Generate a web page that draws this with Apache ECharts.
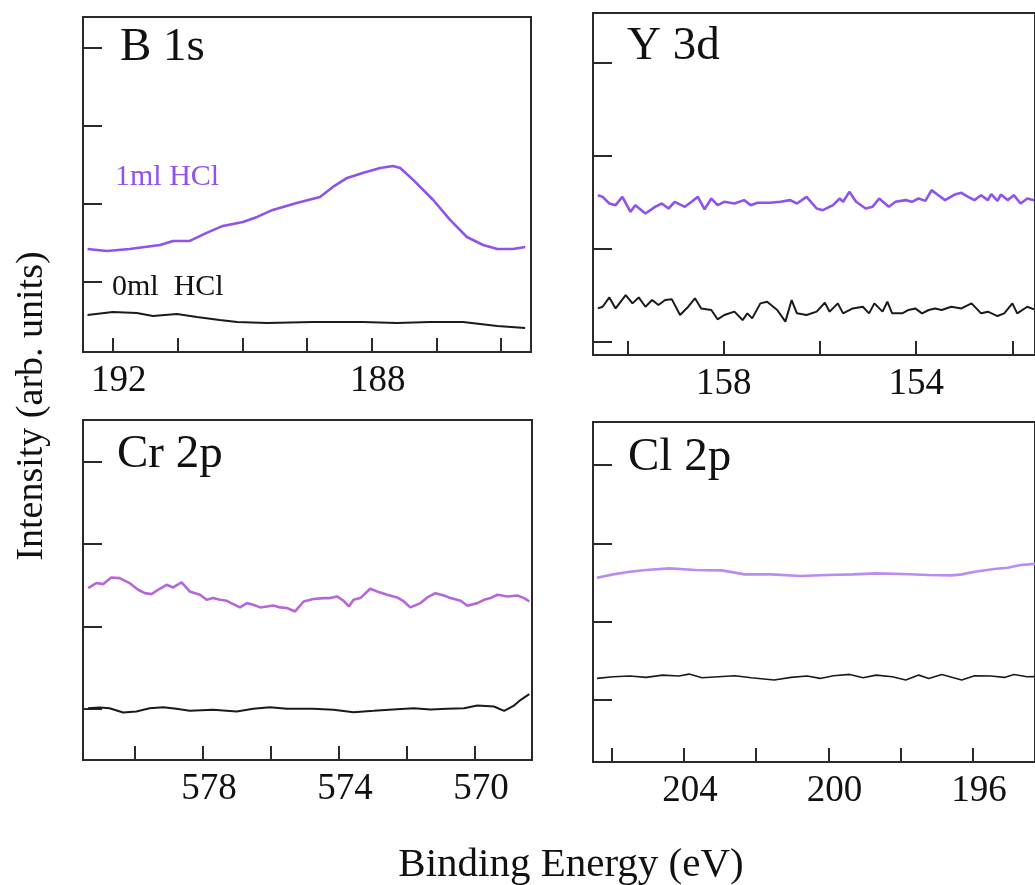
<!DOCTYPE html>
<html>
<head>
<meta charset="utf-8">
<script src="https://cdn.jsdelivr.net/npm/echarts@6/dist/echarts.min.js"></script>
<style>
html,body{margin:0;padding:0;background:#fff;}
#chart{width:1035px;height:885px;}
</style>
</head>
<body>
<div id="chart"></div>
<script>
// ---- DATA: [binding energy (eV), intensity (arb. units)] ----
const b1s_1ml = [[192.39,1.416],[192.09,1.390],[191.74,1.416],[191.27,1.467],[191.07,1.519],[190.81,1.519],[190.55,1.622],[190.30,1.712],[189.99,1.763],[189.77,1.828],[189.53,1.918],[189.16,2.008],[188.80,2.085],[188.60,2.214],[188.38,2.329],[188.14,2.394],[187.87,2.458],[187.67,2.484],[187.56,2.458],[187.36,2.304],[187.05,2.046],[186.79,1.789],[186.53,1.570],[186.28,1.467],[186.06,1.416],[185.82,1.416],[185.63,1.441]];
const b1s_0ml = [[192.39,0.566],[192.00,0.605],[191.63,0.592],[191.38,0.553],[191.01,0.579],[190.70,0.541],[190.35,0.502],[190.08,0.476],[189.62,0.463],[188.91,0.476],[188.14,0.476],[187.61,0.463],[187.10,0.476],[186.59,0.476],[186.06,0.425],[185.63,0.399]];

const y3d_1ml = [[160.62,1.575],[160.52,1.557],[160.38,1.486],[160.25,1.468],[160.11,1.557],[159.94,1.397],[159.84,1.468],[159.63,1.379],[159.43,1.450],[159.29,1.486],[159.15,1.432],[159.02,1.504],[158.81,1.450],[158.67,1.504],[158.54,1.557],[158.40,1.422],[158.26,1.539],[158.13,1.468],[157.99,1.504],[157.78,1.486],[157.58,1.522],[157.44,1.468],[157.30,1.493],[157.03,1.493],[156.82,1.504],[156.62,1.522],[156.48,1.486],[156.28,1.557],[156.07,1.432],[155.94,1.414],[155.73,1.468],[155.59,1.539],[155.52,1.504],[155.39,1.611],[155.25,1.504],[155.05,1.432],[154.91,1.450],[154.77,1.539],[154.57,1.450],[154.43,1.504],[154.22,1.522],[154.09,1.504],[153.95,1.539],[153.81,1.514],[153.68,1.629],[153.54,1.575],[153.40,1.522],[153.20,1.582],[153.06,1.600],[152.92,1.557],[152.79,1.522],[152.65,1.575],[152.51,1.522],[152.44,1.586],[152.31,1.514],[152.24,1.582],[152.10,1.522],[151.97,1.575],[151.83,1.486],[151.69,1.539],[151.55,1.520]];
const y3d_0ml = [[160.62,0.360],[160.52,0.378],[160.38,0.478],[160.25,0.360],[160.04,0.503],[159.90,0.414],[159.77,0.478],[159.63,0.378],[159.49,0.450],[159.36,0.396],[159.22,0.450],[159.08,0.457],[158.91,0.289],[158.74,0.378],[158.60,0.468],[158.47,0.360],[158.26,0.343],[158.13,0.243],[157.99,0.289],[157.78,0.325],[157.61,0.235],[157.51,0.307],[157.41,0.253],[157.24,0.414],[157.10,0.432],[156.89,0.343],[156.72,0.218],[156.59,0.450],[156.48,0.307],[156.28,0.289],[156.07,0.325],[155.90,0.421],[155.80,0.325],[155.63,0.414],[155.52,0.307],[155.32,0.360],[155.11,0.378],[154.98,0.307],[154.87,0.414],[154.70,0.325],[154.60,0.432],[154.50,0.307],[154.29,0.307],[154.16,0.343],[154.02,0.360],[153.88,0.307],[153.74,0.343],[153.61,0.360],[153.47,0.343],[153.27,0.378],[153.06,0.360],[152.85,0.414],[152.65,0.307],[152.51,0.325],[152.31,0.278],[152.17,0.307],[152.00,0.414],[151.90,0.307],[151.69,0.378],[151.55,0.350]];

const cr2p_1ml = [[581.38,1.463],[581.14,1.524],[580.94,1.511],[580.70,1.592],[580.45,1.584],[580.16,1.524],[579.91,1.443],[579.71,1.402],[579.52,1.390],[579.27,1.455],[579.07,1.503],[578.88,1.471],[578.63,1.532],[578.39,1.423],[578.09,1.382],[577.89,1.321],[577.70,1.342],[577.50,1.321],[577.30,1.309],[577.11,1.269],[576.91,1.229],[576.71,1.281],[576.52,1.261],[576.32,1.229],[576.12,1.241],[575.93,1.253],[575.73,1.229],[575.53,1.221],[575.29,1.180],[575.04,1.301],[574.75,1.330],[574.45,1.342],[574.26,1.342],[574.06,1.362],[573.86,1.309],[573.71,1.241],[573.57,1.321],[573.37,1.342],[573.08,1.455],[572.88,1.423],[572.58,1.382],[572.29,1.350],[572.09,1.301],[571.90,1.229],[571.60,1.281],[571.40,1.350],[571.16,1.402],[570.91,1.374],[570.72,1.342],[570.42,1.309],[570.22,1.249],[569.93,1.281],[569.73,1.321],[569.54,1.342],[569.34,1.382],[569.04,1.362],[568.75,1.374],[568.55,1.342],[568.40,1.301]];
const cr2p_0ml = [[581.38,0.008],[581.04,0.016],[580.75,0.008],[580.35,-0.044],[579.96,-0.032],[579.57,0.008],[579.17,0.020],[578.78,0.000],[578.39,-0.024],[577.70,-0.012],[577.01,-0.032],[576.52,0.000],[576.03,0.020],[575.53,0.000],[574.75,0.000],[574.16,-0.012],[573.57,-0.040],[572.98,-0.024],[572.29,-0.004],[571.80,0.008],[571.31,-0.008],[570.81,0.000],[570.32,0.008],[569.93,0.040],[569.44,0.028],[569.14,-0.024],[568.85,0.040],[568.65,0.109],[568.40,0.178]];

const cl2p_1ml = [[206.41,1.563],[205.96,1.605],[205.50,1.639],[205.05,1.660],[204.41,1.682],[203.68,1.660],[202.95,1.656],[202.32,1.605],[201.59,1.605],[200.77,1.584],[200.04,1.597],[199.32,1.605],[198.68,1.618],[197.95,1.609],[197.22,1.597],[196.59,1.592],[196.31,1.605],[195.95,1.639],[195.41,1.673],[195.04,1.690],[194.68,1.724],[194.45,1.733],[194.28,1.740]];
const cl2p_0ml = [[206.41,0.277],[205.96,0.298],[205.50,0.307],[205.05,0.290],[204.59,0.319],[204.14,0.307],[203.86,0.332],[203.50,0.285],[203.05,0.298],[202.59,0.311],[202.14,0.285],[201.50,0.256],[201.04,0.290],[200.59,0.307],[200.23,0.277],[199.86,0.311],[199.41,0.328],[199.04,0.285],[198.68,0.319],[198.23,0.298],[197.86,0.256],[197.50,0.319],[197.22,0.277],[196.86,0.328],[196.31,0.256],[195.95,0.311],[195.50,0.307],[195.13,0.290],[194.86,0.328],[194.50,0.298],[194.28,0.300]];

// tick values
const b1sTicks = [192,191,190,189,188,187,186];
const b1sLabels = [192,188];
const y3dTicks = [160,158,156,154,152];
const y3dLabels = [158,154];
const cr2pTicks = [580,578,576,574,572,570];
const cr2pLabels = [578,574,570];
const cl2pTicks = [206,204,202,200,198,196];
const cl2pLabels = [204,200,196];
const yTicks = [0,1,2,3,4];

const panelNames = ['B 1s','Y 3d','Cr 2p','Cl 2p'];
const seriesNames = ['1ml HCl','0ml  HCl'];
const xTitle = 'Binding Energy (eV)';
const yTitle = 'Intensity (arb. units)';

// ---- STYLE / LAYOUT ----
const FONT = '"Liberation Serif","Times New Roman",serif';
const PURPLE = ['#8f52ec','#8f52ec','#b567d9','#b98cf2'];
const grids = [
  {left:83, top:17, width:448, height:335},
  {left:593, top:13, width:448, height:342},
  {left:83, top:420, width:449, height:340},
  {left:593, top:422, width:448, height:340}
];
const labelPad = [[0,0,0,12],[0,0,0,0],[0,0,0,12],[0,0,0,12]];
const xRanges = [[185.54,192.46],[151.53,160.72],[568.32,581.53],[194.28,206.52]];
const yRanges = [[0.09,4.40],[-0.14,3.53],[-0.62,3.50],[-0.79,3.55]];
const xTicks = [b1sTicks,y3dTicks,cr2pTicks,cl2pTicks];
const xLabels = [b1sLabels,y3dLabels,cr2pLabels,cl2pLabels];
const data1 = [b1s_1ml,y3d_1ml,cr2p_1ml,cl2p_1ml];
const data0 = [b1s_0ml,y3d_0ml,cr2p_0ml,cl2p_0ml];

const option = {
  backgroundColor:'#fff',
  animation:false,
  grid: grids.map(g => Object.assign({show:true, borderColor:'#2a2a2a', borderWidth:2, backgroundColor:'transparent'}, g)),
  xAxis: grids.map((g,i) => ({
    type:'value', gridIndex:i, inverse:true, min:xRanges[i][0], max:xRanges[i][1],
    position:'bottom',
    axisLine:{show:false, onZero:false},
    splitLine:{show:false},
    axisTick:{show:true, inside:true, length:14, customValues:xTicks[i], lineStyle:{color:'#2a2a2a', width:2}},
    axisLabel:{show:true, customValues:xLabels[i], fontFamily:FONT, fontSize:37, color:'#111', margin:11, padding:labelPad[i]}
  })),
  yAxis: grids.map((g,i) => ({
    type:'value', gridIndex:i, min:yRanges[i][0], max:yRanges[i][1],
    position:'left',
    axisLine:{show:false, onZero:false},
    splitLine:{show:false},
    axisTick:{show:true, inside:true, length:19, customValues:yTicks, lineStyle:{color:'#2a2a2a', width:2}},
    axisLabel:{show:false}
  })),
  series: [].concat(
    data1.map((d,i) => ({type:'line', xAxisIndex:i, yAxisIndex:i, name:seriesNames[0], data:d, showSymbol:false, lineStyle:{color:PURPLE[i], width:2.6}, itemStyle:{color:PURPLE[i]}})),
    data0.map((d,i) => ({type:'line', xAxisIndex:i, yAxisIndex:i, name:seriesNames[1], data:d, showSymbol:false, lineStyle:{color:'#1a1a1a', width:i===3?1.6:2}, itemStyle:{color:'#1a1a1a'}}))
  ),
  graphic: [
    {type:'text', x:120, y:48, style:{text:panelNames[0], font:'47px '+FONT, fill:'#111', verticalAlign:'middle'}},
    {type:'text', x:627, y:47, style:{text:panelNames[1], font:'47px '+FONT, fill:'#111', verticalAlign:'middle'}},
    {type:'text', x:117, y:455, style:{text:panelNames[2], font:'47px '+FONT, fill:'#111', verticalAlign:'middle'}},
    {type:'text', x:628, y:458, style:{text:panelNames[3], font:'47px '+FONT, fill:'#111', verticalAlign:'middle'}},
    {type:'text', x:115, y:177, style:{text:seriesNames[0], font:'30px '+FONT, fill:PURPLE[0], verticalAlign:'middle'}},
    {type:'text', x:112, y:287, style:{text:seriesNames[1], font:'30px '+FONT, fill:'#111', verticalAlign:'middle'}},
    {type:'text', x:32, y:406, rotation:Math.PI/2, style:{text:yTitle, font:'38px '+FONT, fill:'#111', align:'center', verticalAlign:'middle'}},
    {type:'text', x:571, y:865, style:{text:xTitle, font:'41px '+FONT, fill:'#111', align:'center', verticalAlign:'middle'}}
  ]
};
const chart = echarts.init(document.getElementById('chart'), null, {renderer:'canvas'});
chart.setOption(option);
</script>
</body>
</html>
